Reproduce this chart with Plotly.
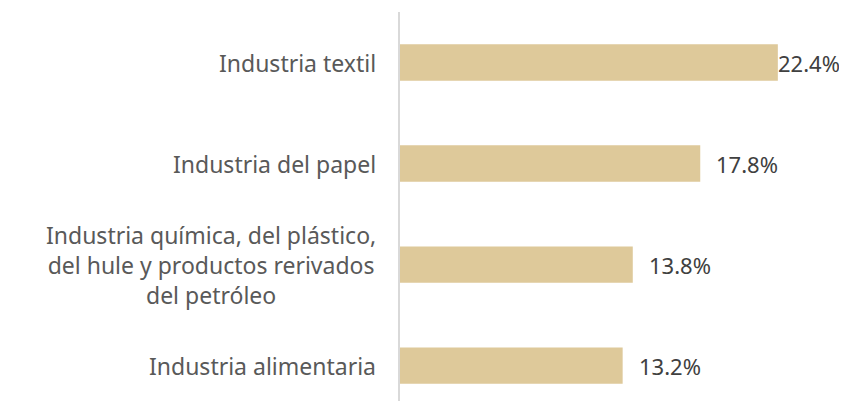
import plotly.graph_objects as go

categories = [
    "Industria alimentaria",
    "Industria química, del plástico,<br>del hule y productos rerivados<br>del petróleo",
    "Industria del papel",
    "Industria textil",
]
values = [13.2, 13.8, 17.8, 22.4]
value_labels = ["13.2%", "13.8%", "17.8%", "22.4%"]

BAR = "#DEC99A"
TXT = "#595959"
FONT = "Noto Sans"
XMAX = 26.5
idx = list(range(len(categories)))

fig = go.Figure(go.Bar(
    x=values, y=idx, orientation="h",
    marker=dict(color=BAR, line=dict(width=0)),
    width=0.36, hoverinfo="skip",
))

anns = []
for i, (c, v, t) in enumerate(zip(categories, values, value_labels)):
    anns.append(dict(x=0, xref="paper", y=i, yref="y", text=c, showarrow=False,
                     xanchor="right", yanchor="middle", align="center", xshift=-22,
                     font=dict(family=FONT, size=23, color=TXT)))
    shift = -2 if v / XMAX > 0.8 else 14
    anns.append(dict(x=v, xref="x", y=i, yref="y", text=t, showarrow=False,
                     xanchor="left", yanchor="middle", xshift=shift,
                     font=dict(family=FONT, size=22, color="#404040")))

# page body has an 8px default margin; size the figure so the page does not overflow
fig.update_layout(
    width=839, height=393,
    margin=dict(l=392, r=0, t=4, b=0),
    paper_bgcolor="white", plot_bgcolor="white",
    showlegend=False,
    annotations=anns,
    xaxis=dict(range=[0, XMAX], visible=False, fixedrange=True),
    yaxis=dict(range=[-0.35, 3.5], showticklabels=False, showgrid=False, zeroline=False,
               showline=True, linecolor="#D9D9D9", linewidth=2, ticks="", fixedrange=True),
)

fig.write_html("out.html")
